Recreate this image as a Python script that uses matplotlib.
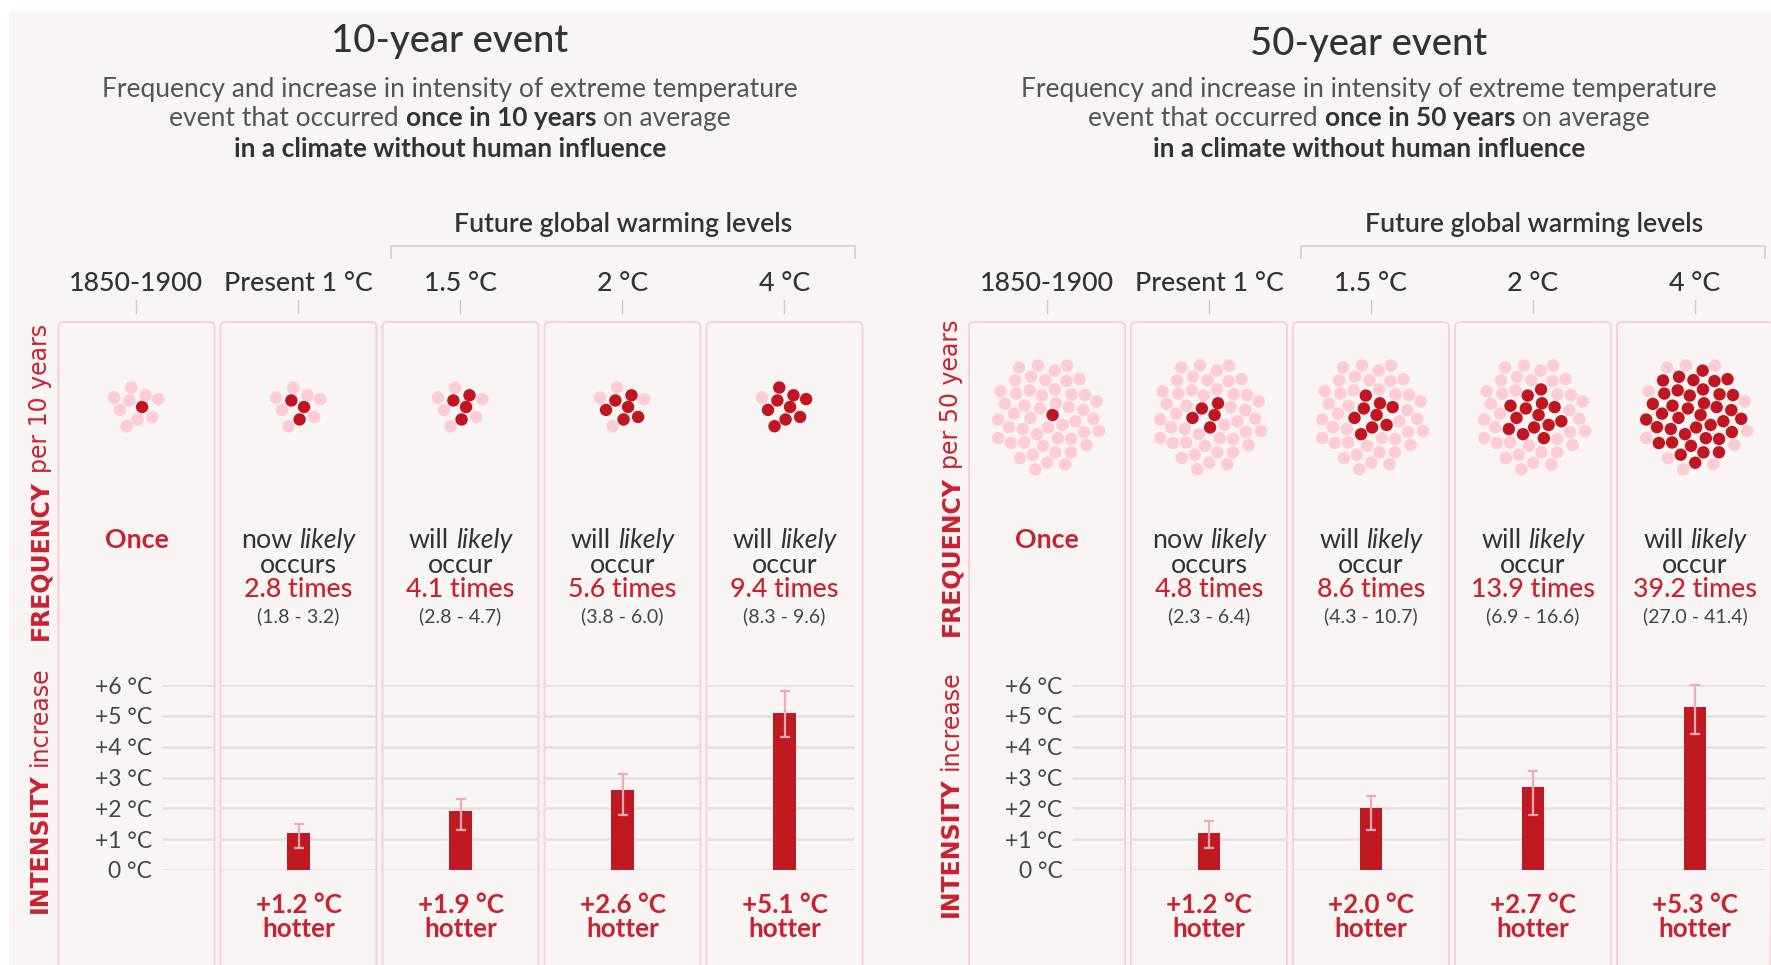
import numpy as np
import matplotlib.pyplot as plt
from matplotlib.patches import Rectangle, FancyBboxPatch

plt.rcParams['font.family'] = ['Lato', 'DejaVu Sans']

W, H = 1771, 965

# ---- data ----
periods = ['1850-1900', 'Present 1 °C', '1.5 °C', '2 °C', '4 °C']
temp_ticks = [0, 1, 2, 3, 4, 5, 6]

freq_10 = [1, 2.8, 4.1, 5.6, 9.4]
freq_10_lo = [1.8, 2.8, 3.8, 8.3]
freq_10_hi = [3.2, 4.7, 6.0, 9.6]
hot_10 = [1.2, 1.9, 2.6, 5.1]
hot_10_lo = [0.7, 1.3, 1.8, 4.3]
hot_10_hi = [1.5, 2.3, 3.1, 5.8]

freq_50 = [1, 4.8, 8.6, 13.9, 39.2]
freq_50_lo = [2.3, 4.3, 6.9, 27.0]
freq_50_hi = [6.4, 10.7, 16.6, 41.4]
hot_50 = [1.2, 2.0, 2.7, 5.3]
hot_50_lo = [0.7, 1.3, 1.8, 4.4]
hot_50_hi = [1.6, 2.4, 3.2, 6.0]

# colours
BG = '#faf5f5'
RED = '#c92131'
BAR = '#bf1a22'
DOT_RED = '#c0161f'
PINK = '#ffcbd5'
ERR = '#f2a9b5'
BOX = '#f6d2d8'
GRID = '#e3dfdf'
DARK = '#333333'
GREY = '#555555'

# text sizes
TXT = 19.3

fig = plt.figure(figsize=(W / 100, H / 100), dpi=100)
fig.patch.set_facecolor('white')
bg = fig.add_axes([0, 0, 1, 1], zorder=-1)
bg.set_xlim(0, W)
bg.set_ylim(H, 0)
bg.axis('off')
bg.add_patch(Rectangle((9, 11), W, H, facecolor=BG, edgecolor='none'))

renderer = fig.canvas.get_renderer()


def rich(x, y, parts, size, rotation=0, family=None):
    # draw text pieces with different styles, centred on (x, y) baseline
    fam = {'family': family} if family else {}
    objs = []
    for s, kw in parts:
        t = bg.text(x, y, s, fontsize=size, rotation=rotation, rotation_mode='anchor',
                    ha='left', va='baseline', **fam, **kw)
        objs.append(t)
    probe = bg.text(0, 0, 'x x', fontsize=size, **fam)
    probe2 = bg.text(0, 0, 'xx', fontsize=size, **fam)
    gap = probe.get_window_extent(renderer).width - probe2.get_window_extent(renderer).width
    probe.remove()
    probe2.remove()
    lens = []
    for t in objs:
        bb = t.get_window_extent(renderer)
        lens.append(bb.width if rotation == 0 else bb.height)
    total = sum(lens) + gap * (len(lens) - 1)
    cum = 0
    for t, L in zip(objs, lens):
        if rotation == 0:
            t.set_position((x - total / 2 + cum, y))
        else:
            t.set_position((x, y + total / 2 - cum))
        cum += L + gap


def sunflower(n, c):
    ga = np.pi * (3 - np.sqrt(5))
    i = np.arange(n)
    r = c * np.sqrt(i + 0.5)
    return r * np.cos(i * ga), r * np.sin(i * ga)


panels = [
    dict(years=10, dx=0, title_x=450, title_y=52, freq=freq_10, flo=freq_10_lo, fhi=freq_10_hi,
         hot=hot_10, hlo=hot_10_lo, hhi=hot_10_hi, dot_y=407, fut_x=623, br=(391.5, 855),
         lab_x=47, fq_y=482, in_y=790),
    dict(years=50, dx=910.5, title_x=1369, title_y=55, freq=freq_50, flo=freq_50_lo, fhi=freq_50_hi,
         hot=hot_50, hlo=hot_50_lo, hhi=hot_50_hi, dot_y=415, fut_x=1534, br=(1301, 1765.5),
         lab_x=958, fq_y=478, in_y=794),
]

col_step = 162
half_box = 78

for p in panels:
    cx = [136.5 + p['dx'] + col_step * i for i in range(5)]
    yrs = p['years']

    # titles
    bg.text(p['title_x'], p['title_y'], f'{yrs}-year event', fontsize=27.5, weight='medium',
            color=DARK, ha='center', va='baseline')
    rich(p['title_x'], 96.7, [('Frequency and increase in intensity of extreme temperature',
                               dict(color=GREY))], 19)
    rich(p['title_x'], 126, [('event that occurred', dict(color=GREY)),
                             (f'once in {yrs} years', dict(color=DARK, weight='bold')),
                             ('on average', dict(color=GREY))], 19)
    rich(p['title_x'], 156.7, [('in a climate without human influence',
                                dict(color=DARK, weight='bold'))], 19)

    # future warming bracket
    bg.text(p['fut_x'], 232, 'Future global warming levels', fontsize=19.3, weight='semibold',
            color=DARK, ha='center', va='baseline')
    x0, x1 = p['br']
    bg.plot([x0, x0, x1, x1], [258, 246, 246, 258], color='#d4d0d0', lw=1.2)

    # column headers, ticks and boxes
    for i, name in enumerate(periods):
        bg.text(cx[i], 291, name, fontsize=19.3, weight='medium', color=DARK,
                ha='center', va='baseline')
        bg.plot([cx[i], cx[i]], [300, 313], color='#cfcaca', lw=1)
        bg.add_patch(FancyBboxPatch((cx[i] - half_box, 322), 2 * half_box, 700,
                                    boxstyle='round,pad=0,rounding_size=5',
                                    facecolor='none', edgecolor=BOX, lw=1.5))

    # side labels
    rich(p['lab_x'], p['fq_y'], [('FREQUENCY', dict(color=RED, weight='bold')),
                                 (f'per {yrs} years', dict(color=RED))], 17,
         rotation=90, family='DejaVu Sans')
    rich(p['lab_x'], p['in_y'], [('INTENSITY', dict(color=RED, weight='bold')),
                                 ('increase', dict(color=RED))], 17,
         rotation=90, family='DejaVu Sans')

    # dot clusters
    dx_, dy_ = sunflower(yrs, 7.9)
    for i in range(5):
        ax = fig.add_axes([(cx[i] - 75) / W, 1 - (p['dot_y'] + 75) / H, 150 / W, 150 / H])
        ax.set_xlim(-75, 75)
        ax.set_ylim(-75, 75)
        ax.axis('off')
        n_red = int(round(p['freq'][i]))
        cols = [DOT_RED if k < n_red else PINK for k in range(yrs)]
        ax.scatter(dx_, dy_, s=80, c=cols, linewidths=0)

    # frequency texts
    bg.text(cx[0], 548, 'Once', fontsize=TXT, weight='bold', color=RED,
            ha='center', va='baseline')
    for i in range(1, 5):
        verb = 'now' if i == 1 else 'will'
        rich(cx[i], 548, [(verb, dict(color=DARK)), ('likely', dict(color=DARK, style='italic'))], TXT)
        bg.text(cx[i], 573, 'occurs' if i == 1 else 'occur', fontsize=TXT, color=DARK,
                ha='center', va='baseline')
        bg.text(cx[i], 597, f'{p["freq"][i]:.1f} times', fontsize=TXT, weight='medium',
                color=RED, ha='center', va='baseline')
        bg.text(cx[i], 622, f'({p["flo"][i - 1]:.1f} - {p["fhi"][i - 1]:.1f})', fontsize=14,
                color='#444444', ha='center', va='baseline')

    # intensity bars
    ax = fig.add_axes([(cx[0] - col_step / 2) / W, 1 - 870 / H, 5 * col_step / W, 185 / H])
    ax.set_facecolor('none')
    ax.set_xlim(-0.5, 4.5)
    ax.set_ylim(0, 6)
    for s in ['top', 'right', 'bottom']:
        ax.spines[s].set_visible(False)
    ax.spines['left'].set_position(('data', 0.095))
    ax.spines['left'].set_visible(False)
    ax.set_xticks([])
    ax.set_yticks(temp_ticks)
    ax.set_yticklabels([('+' if t > 0 else '') + f'{t} °C' for t in temp_ticks])
    ax.tick_params(axis='y', length=0, pad=0, labelsize=16.5, labelcolor='#444444')

    g_start = [0.155] + [i - half_box / col_step for i in range(1, 5)]
    g_end = [i + half_box / col_step for i in range(4)] + [4.43]
    for t in temp_ticks:
        ax.hlines([t] * 5, g_start, g_end, color=GRID, lw=1.8, zorder=1)

    xs = np.arange(1, 5)
    hot = np.array(p['hot'])
    ax.bar(xs, hot, width=0.136, color=BAR, zorder=3)
    ax.errorbar(xs, hot, yerr=[hot - np.array(p['hlo']), np.array(p['hhi']) - hot], fmt='none',
                ecolor=ERR, elinewidth=1.6, capsize=3.5, capthick=1.6, zorder=4, clip_on=False)
    for x, v in zip(xs, hot):
        ax.annotate(f'+{v:.1f} °C', xy=(x, 0), xytext=(0, -43), textcoords='offset pixels',
                    ha='center', va='baseline', fontsize=18.7, weight='bold', color=RED)
        ax.annotate('hotter', xy=(x, 0), xytext=(0, -67), textcoords='offset pixels',
                    ha='center', va='baseline', fontsize=18.7, weight='bold', color=RED)

fig.savefig('out.png', dpi=100)
